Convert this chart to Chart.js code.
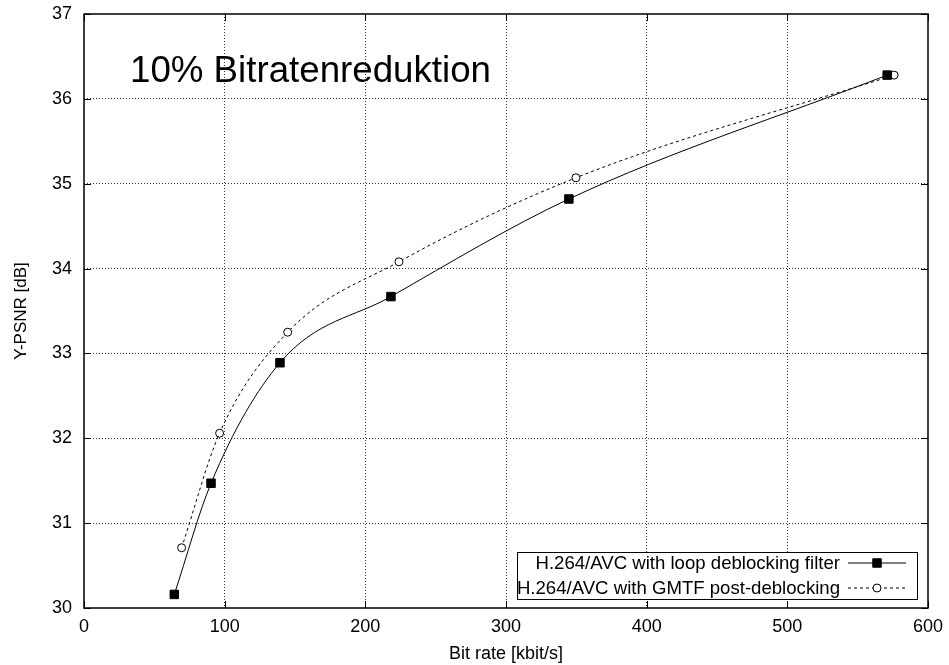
<!DOCTYPE html>
<html>
<head>
<meta charset="utf-8">
<script src="https://cdn.jsdelivr.net/npm/chart.js@4/dist/chart.umd.min.js"></script>
<style>
  html, body { margin: 0; padding: 0; background: #fff; }
  #wrap { width: 949px; height: 665px; }
</style>
</head>
<body>
<div id="wrap"><canvas id="psnr"></canvas></div>
<script>
// values
const loopRate = [64.2, 90.3, 139.3, 218.2, 344.7, 571.0];
const loopPsnr = [30.16, 31.47, 32.89, 33.67, 34.82, 36.28];
const gmtfRate = [69.4, 96.4, 144.8, 223.9, 349.7, 575.9];
const gmtfPsnr = [30.71, 32.06, 33.25, 34.08, 35.07, 36.28];
const xTicks = [0, 100, 200, 300, 400, 500, 600];
const yTicks = [30, 31, 32, 33, 34, 35, 36, 37];
const seriesNames = ['H.264/AVC with loop deblocking filter', 'H.264/AVC with GMTF post-deblocking'];
const plotLabel = '10% Bitratenreduktion';

const FONT = '"Liberation Sans", Arial, Helvetica, sans-serif';

function pts(xs, ys) {
    return xs.map((x, i) => ({ x: x, y: ys[i] }));
}

function marker(ctx, ds, x, y) {
    ctx.fillStyle = ds.pointBackgroundColor;
    ctx.strokeStyle = '#000';
    ctx.lineWidth = 1;
    ctx.beginPath();
    if (ds.pointStyle === 'circle') {
        ctx.arc(x, y, ds.pointRadius, 0, Math.PI * 2);
    } else {
        const s = ds.pointRadius * Math.SQRT1_2;
        ctx.rect(x - s, y - s, 2 * s, 2 * s);
    }
    ctx.fill();
    ctx.stroke();
}

// gnuplot look: border, inward ticks on all sides, label, legend box
const gnuplotFrame = {
    id: 'gnuplotFrame',
    afterDraw(chart) {
        const ctx = chart.ctx;
        const a = chart.chartArea;
        const xs = chart.scales.x, ys = chart.scales.y;
        ctx.save();
        ctx.strokeStyle = '#000';
        ctx.lineWidth = 1;
        xTicks.forEach(v => {
            const px = Math.round(xs.getPixelForValue(v)) + 0.5;
            ctx.beginPath();
            ctx.moveTo(px, a.bottom); ctx.lineTo(px, a.bottom - 7);
            ctx.moveTo(px, a.top); ctx.lineTo(px, a.top + 7);
            ctx.stroke();
        });
        yTicks.forEach(v => {
            const py = Math.round(ys.getPixelForValue(v)) + 0.5;
            ctx.beginPath();
            ctx.moveTo(a.left, py); ctx.lineTo(a.left + 7, py);
            ctx.moveTo(a.right, py); ctx.lineTo(a.right - 7, py);
            ctx.stroke();
        });
        ctx.lineWidth = 1.5;
        ctx.strokeRect(a.left, a.top, a.right - a.left, a.bottom - a.top);

        // big label inside the plot
        ctx.fillStyle = '#000';
        ctx.font = '36.7px ' + FONT;
        ctx.textAlign = 'left';
        ctx.textBaseline = 'alphabetic';
        ctx.fillText(plotLabel, a.left + 46, a.top + 68);

        // legend box
        const bx = a.right - 411, by = a.bottom - 56, bw = 400, bh = 47;
        ctx.fillStyle = '#fff';
        ctx.fillRect(bx, by, bw, bh);
        ctx.lineWidth = 1;
        ctx.strokeStyle = '#000';
        ctx.strokeRect(bx + 0.5, by + 0.5, bw, bh);
        ctx.font = '18.6px ' + FONT;
        ctx.textAlign = 'right';
        ctx.textBaseline = 'middle';
        chart.data.datasets.forEach((ds, i) => {
            const rowY = by + 11 + i * 25;
            ctx.fillStyle = '#000';
            ctx.fillText(seriesNames[i], bx + 323, rowY + 1);
            const x0 = bx + 331, x1 = bx + 389;
            ctx.beginPath();
            ctx.strokeStyle = '#000';
            ctx.setLineDash(ds.borderDash || []);
            ctx.lineWidth = ds.borderWidth;
            ctx.moveTo(x0, rowY); ctx.lineTo(x1, rowY);
            ctx.stroke();
            ctx.setLineDash([]);
            marker(ctx, ds, (x0 + x1) / 2, rowY);
        });
        ctx.restore();
    }
};

function edgeless(scaleMin, scaleMax) {
    return ctx => (ctx.tick && (ctx.tick.value === scaleMin || ctx.tick.value === scaleMax)) ? 'rgba(0,0,0,0)' : '#333';
}

new Chart(document.getElementById('psnr'), {
    type: 'scatter',
    data: {
        datasets: [{
            label: seriesNames[0],
            data: pts(loopRate, loopPsnr),
            showLine: true,
            borderColor: '#000',
            borderWidth: 1,
            pointStyle: 'rect',
            pointRadius: 6,
            pointBackgroundColor: '#000',
            pointBorderColor: '#000',
            cubicInterpolationMode: 'monotone'
        }, {
            label: seriesNames[1],
            data: pts(gmtfRate, gmtfPsnr),
            showLine: true,
            borderColor: '#000',
            borderWidth: 1,
            borderDash: [3, 3],
            pointStyle: 'circle',
            pointRadius: 4,
            pointBackgroundColor: '#fff',
            pointBorderColor: '#000',
            pointBorderWidth: 1,
            cubicInterpolationMode: 'monotone'
        }]
    },
    options: {
        responsive: true,
        maintainAspectRatio: false,
        animation: false,
        events: [],
        layout: { padding: { top: 14, right: 21, left: 0, bottom: 0 } },
        plugins: {
            legend: { display: false },
            tooltip: { enabled: false }
        },
        scales: {
            x: {
                type: 'linear',
                min: 0, max: 600,
                afterBuildTicks: s => { s.ticks = xTicks.map(v => ({ value: v })); },
                afterFit: s => { s.height = 57; s.paddingLeft = 0; s.paddingRight = 0; },
                border: { display: false, dash: [1, 2] },
                grid: {
                    drawTicks: false,
                    color: edgeless(0, 600),
                    lineWidth: 1
                },
                ticks: { color: '#000', padding: 8, font: { family: FONT, size: 18 } },
                title: {
                    display: true, text: 'Bit rate [kbit/s]', color: '#000',
                    font: { family: FONT, size: 18 }, padding: { top: 6, bottom: 0 }
                }
            },
            y: {
                type: 'linear',
                min: 30, max: 37,
                afterBuildTicks: s => { s.ticks = yTicks.map(v => ({ value: v })); },
                afterFit: s => { s.width = 84; s.paddingTop = 0; s.paddingBottom = 0; },
                border: { display: false, dash: [1, 2] },
                grid: {
                    drawTicks: false,
                    color: edgeless(30, 37),
                    lineWidth: 1
                },
                ticks: { color: '#000', padding: 12, font: { family: FONT, size: 18 } },
                title: {
                    display: true, text: 'Y-PSNR [dB]', color: '#000',
                    font: { family: FONT, size: 17 }, padding: { top: 11, bottom: 0 }
                }
            }
        }
    },
    plugins: [gnuplotFrame]
});
</script>
</body>
</html>
